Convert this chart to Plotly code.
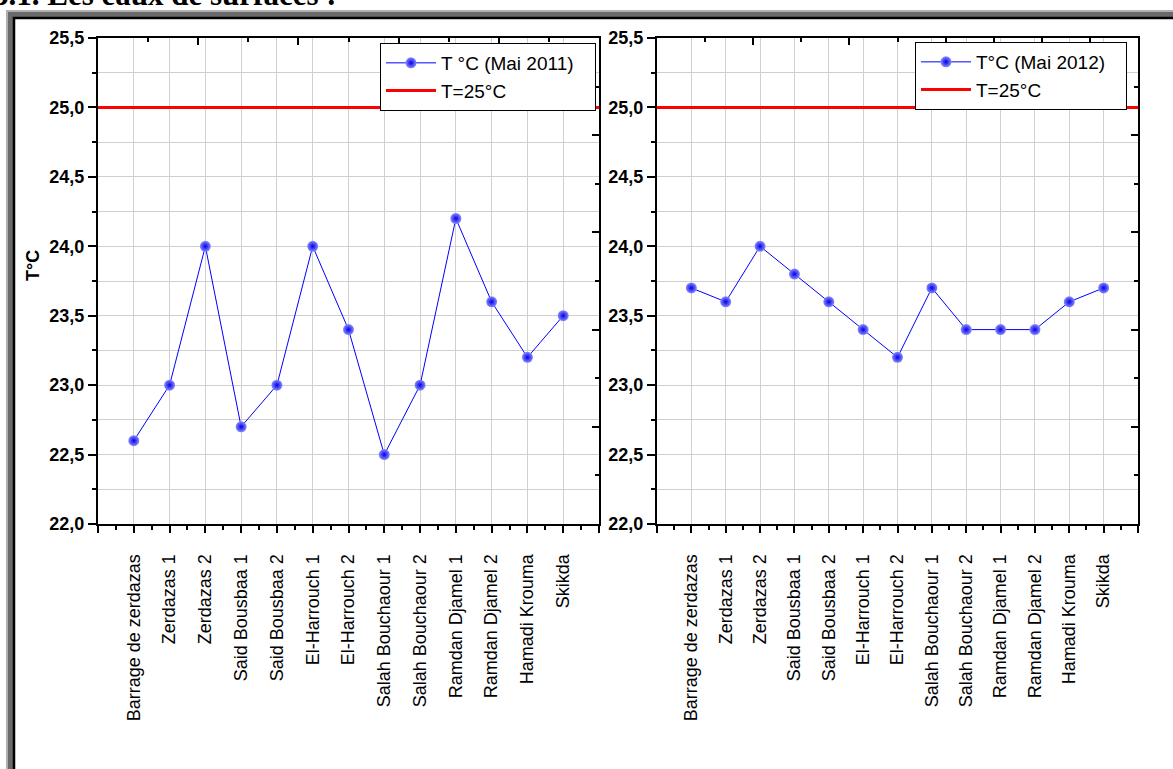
import plotly.graph_objects as go

W, H = 1173, 769

sites = ["Barrage de zerdazas", "Zerdazas 1", "Zerdazas 2", "Said Bousbaa 1", "Said Bousbaa 2",
         "El-Harrouch 1", "El-Harrouch 2", "Salah Bouchaour 1", "Salah Bouchaour 2",
         "Ramdan Djamel 1", "Ramdan Djamel 2", "Hamadi Krouma", "Skikda"]
t_2011 = [22.6, 23.0, 24.0, 22.7, 23.0, 24.0, 23.4, 22.5, 23.0, 24.2, 23.6, 23.2, 23.5]
t_2012 = [23.7, 23.6, 24.0, 23.8, 23.6, 23.4, 23.2, 23.7, 23.4, 23.4, 23.4, 23.6, 23.7]
threshold = 25.0
y_ticks = [22.0, 22.5, 23.0, 23.5, 24.0, 24.5, 25.0, 25.5]

positions = list(range(1, len(sites) + 1))
x_lo, x_hi = 0, len(sites) + 1

def px_x(p):
    return p / W

def px_y(p):
    return 1 - p / H

FONT = "Liberation Sans"
PAD = "\u00a0\u00a0\u00a0"

fig = go.Figure()

def add_panel(xa, ya, vals, name, legend):
    fig.add_trace(go.Scatter(
        x=positions, y=vals, mode="lines+markers", name=name + PAD,
        xaxis=xa, yaxis=ya, legend=legend,
        line=dict(color="#0000ff", width=1),
        marker=dict(size=11, symbol="circle", color="#8c8cff",
                    gradient=dict(type="radial", color="#0000e8"),
                    line=dict(width=0)),
    ))
    fig.add_trace(go.Scatter(
        x=[x_lo, x_hi], y=[threshold, threshold], mode="lines", name="T=25°C",
        xaxis=xa, yaxis=ya, legend=legend,
        line=dict(color="#ff0000", width=3),
    ))

add_panel("x", "y", t_2011, "T °C (Mai 2011)", "legend")
add_panel("x2", "y2", t_2012, "T°C (Mai 2012)", "legend2")

ydom = [px_y(524), px_y(38)]
xdom1 = [px_x(98), px_x(599)]
xdom2 = [px_x(657), px_x(1138)]

grid = "#d0d0d0"

def xaxis_cfg(dom, anchor):
    return dict(
        domain=dom, anchor=anchor, range=[x_lo, x_hi], automargin=False,
        tickvals=[x_lo] + positions + [x_hi], ticktext=[""] + sites + [""],
        tickangle=-90, ticks="outside", ticklen=7, tickwidth=1.5, tickcolor="black",
        ticklabelstandoff=14,
        minor=dict(tickvals=[p + 0.5 for p in range(x_lo, x_hi)], ticks="outside",
                   ticklen=4, tickwidth=1.5, tickcolor="black", showgrid=False),
        showgrid=True, gridcolor=grid, gridwidth=1,
        showline=True, linecolor="black", linewidth=2,
        tickfont=dict(family=FONT, size=18, color="black"),
        zeroline=False, fixedrange=True,
    )

def yaxis_cfg(dom, anchor):
    return dict(
        domain=dom, anchor=anchor, range=[22.0, 25.5], automargin=False,
        tickvals=y_ticks, tickformat=".1f",
        ticks="outside", ticklen=8, tickwidth=1.5, tickcolor="black",
        minor=dict(dtick=0.25, tick0=22.0, ticks="outside", ticklen=4, tickwidth=1.5,
                   tickcolor="black", showgrid=True, gridcolor=grid, gridwidth=1),
        showgrid=True, gridcolor=grid, gridwidth=1,
        showline=True, linecolor="black", linewidth=2,
        tickfont=dict(family=FONT, size=18, color="black", weight="bold"),
        zeroline=False, fixedrange=True,
    )

def top_cfg(over, anchor):
    return dict(
        overlaying=over, anchor=anchor, side="top", range=[0, 10], automargin=False,
        tickvals=[0, 2, 4, 6, 8, 10], ticks="inside", ticklen=7, tickwidth=1.5, tickcolor="black",
        minor=dict(tickvals=[1, 3, 5, 7, 9], ticks="inside", ticklen=4, tickwidth=1.5,
                   tickcolor="black", showgrid=False),
        showticklabels=False, showgrid=False, showline=True, linecolor="black", linewidth=2,
        zeroline=False, fixedrange=True,
    )

def right_cfg(over, anchor):
    return dict(
        overlaying=over, anchor=anchor, side="right", range=[0, 10], automargin=False,
        tickvals=[0, 2, 4, 6, 8, 10], ticks="inside", ticklen=7, tickwidth=1.5, tickcolor="black",
        minor=dict(tickvals=[1, 3, 5, 7, 9], ticks="inside", ticklen=4, tickwidth=1.5,
                   tickcolor="black", showgrid=False),
        showticklabels=False, showgrid=False, showline=True, linecolor="black", linewidth=2,
        zeroline=False, fixedrange=True,
    )

# invisible traces to activate the mirror axes
for xa, ya in [("x3", "y"), ("x4", "y2"), ("x", "y3"), ("x2", "y4")]:
    fig.add_trace(go.Scatter(x=[None], y=[None], xaxis=xa, yaxis=ya, showlegend=False,
                             hoverinfo="skip"))

leg_common = dict(
    bgcolor="white", bordercolor="black", borderwidth=1,
    font=dict(family=FONT, size=19, color="black"),
    itemwidth=50, tracegroupgap=0, xanchor="right", yanchor="top",
)

fig.update_layout(
    width=W, height=H, autosize=False,
    margin=dict(l=0, r=0, t=0, b=0, pad=0),
    paper_bgcolor="white", plot_bgcolor="white",
    separators=", ",
    xaxis=xaxis_cfg(xdom1, "y"),
    yaxis=yaxis_cfg(ydom, "x"),
    xaxis2=xaxis_cfg(xdom2, "y2"),
    yaxis2=yaxis_cfg(ydom, "x2"),
    xaxis3=top_cfg("x", "y"),
    xaxis4=top_cfg("x2", "y2"),
    yaxis3=right_cfg("y", "x"),
    yaxis4=right_cfg("y2", "x2"),
    legend=dict(x=px_x(596), y=px_y(43), **leg_common),
    legend2=dict(x=px_x(1127), y=px_y(42), **leg_common),
    showlegend=True,
    shapes=[
        dict(type="rect", xref="paper", yref="paper", x0=px_x(6), x1=1.2,
             y0=-0.2, y1=px_y(10), fillcolor="#b0b0b0", line=dict(width=0), layer="below"),
        dict(type="rect", xref="paper", yref="paper", x0=px_x(8), x1=1.2,
             y0=-0.2, y1=px_y(12), fillcolor="#6a6a6a", line=dict(width=0), layer="below"),
        dict(type="rect", xref="paper", yref="paper", x0=px_x(14), x1=1.2,
             y0=-0.2, y1=px_y(18), fillcolor="white", line=dict(color="black", width=2.5),
             layer="below"),
    ],
    annotations=[
        dict(text="T°C", xref="paper", yref="paper", x=px_x(33), y=px_y(266),
             xanchor="center", yanchor="middle", textangle=-90, showarrow=False,
             font=dict(family=FONT, size=18, color="black", weight="bold")),
        dict(text="3.1. Les eaux de surfaces :", xref="paper", yref="paper",
             x=px_x(339), y=px_y(14), xanchor="right", yanchor="bottom", showarrow=False,
             font=dict(family="Liberation Serif", size=31, color="black", weight="bold")),
    ],
)

fig.write_html("out.html")
